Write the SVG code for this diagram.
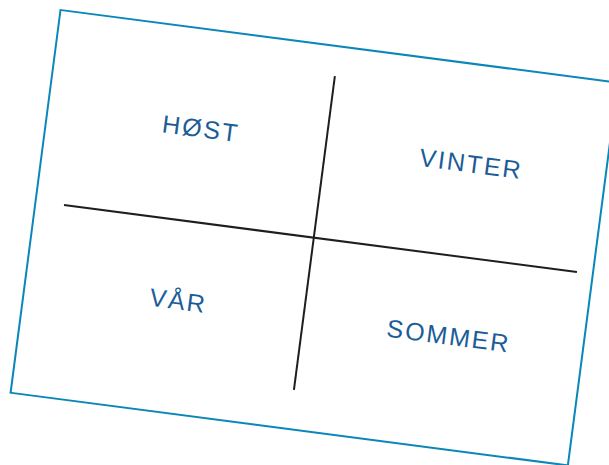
<svg xmlns="http://www.w3.org/2000/svg" width="609" height="465" viewBox="0 0 609 465">
<style>
.frame{fill:none;stroke:#0a87b8;stroke-width:2}
.axis{fill:none;stroke:#1e1e1e;stroke-width:2}
.lbl{font-family:"Liberation Sans",Arial,sans-serif;font-size:25px;fill:#1b5d98;text-anchor:middle;letter-spacing:2px}
</style>
<rect width="609" height="465" fill="#ffffff"/>
<g transform="translate(60.5,10) rotate(7.43)">
<rect id="frame" class="frame" x="0" y="0" width="562" height="386"/>
<g id="connectors">
<line class="axis" x1="28.7" y1="193" x2="546" y2="193"/>
<line class="axis" x1="280.6" y1="30" x2="280.6" y2="346.6"/>
</g>
<g id="host"><text class="lbl" x="154.5" y="108.2">HØST</text></g>
<g id="vinter"><text class="lbl" x="427" y="108.2">VINTER</text></g>
<g id="var"><text class="lbl" x="154.5" y="281.7">VÅR</text></g>
<g id="sommer"><text class="lbl" x="427" y="281.7">SOMMER</text></g>
</g>
</svg>
